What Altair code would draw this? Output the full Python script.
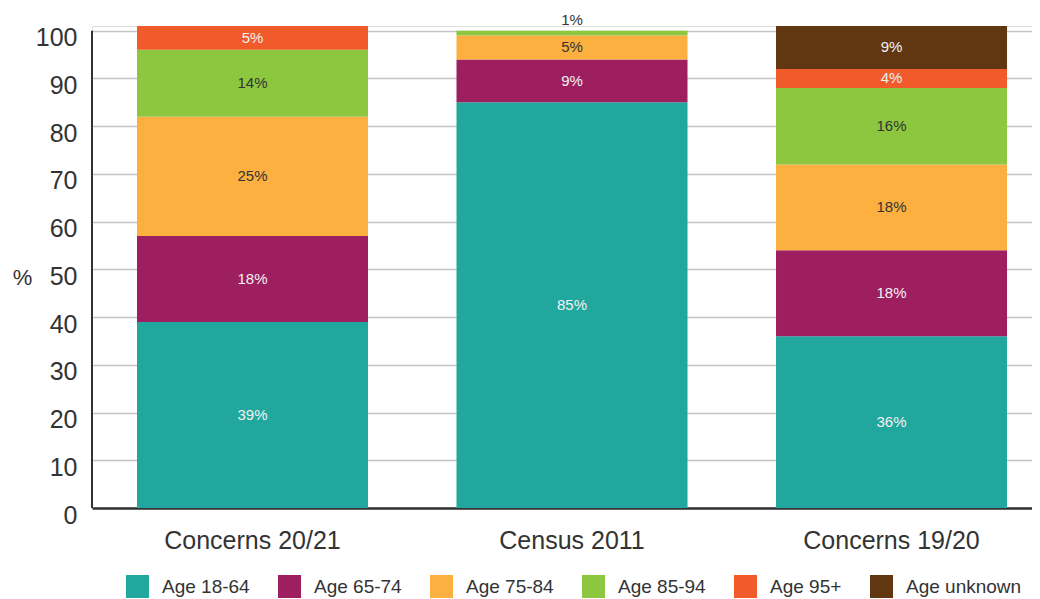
import altair as alt
import pandas as pd

groups = ["Concerns 20/21", "Census 2011", "Concerns 19/20"]
ages = ["Age 18-64", "Age 65-74", "Age 75-84", "Age 85-94", "Age 95+", "Age unknown"]
colors = ["#21A79D", "#9E1F60", "#FBB040", "#8DC63F", "#F15A2B", "#613712"]
concerns_2021 = [39, 18, 25, 14, 5, 0]
census_2011 = [85, 9, 5, 1, 0, 0]
concerns_1920 = [36, 18, 18, 16, 4, 9]
y_ticks = list(range(0, 101, 10))
light_label_ages = ["Age 18-64", "Age 65-74", "Age 95+", "Age unknown"]
dark_label_ages = ["Age 75-84", "Age 85-94"]

rows = []
for g, vals in zip(groups, [concerns_2021, census_2011, concerns_1920]):
    base = 0
    for i, (a, v) in enumerate(zip(ages, vals)):
        if v <= 0:
            continue
        rows.append(dict(group=g, age=a, order=i, value=v, y0=base, y1=base + v,
                         mid=base + v / 2, label=f"{v}%"))
        base += v
df = pd.DataFrame(rows)

FONT = "Liberation Sans"
TXT = "#333333"

x_scale = alt.Scale(domain=groups, paddingInner=0.277, paddingOuter=0.1095, align=0.643)
y_scale = alt.Scale(domain=[0, 101], nice=False, zero=True)

x_axis = alt.Axis(title=None, labelAngle=0, labelFontSize=25, labelColor=TXT, labelPadding=20,
                  ticks=False, domainColor=TXT, domainWidth=2.5, grid=False, labelFont=FONT)
y_axis = alt.Axis(values=y_ticks, title="%", titleAngle=0, titleX=-70, titleY=251,
                  titleFontSize=22, titleFontWeight="normal", titleColor=TXT, titleFont=FONT,
                  titleAlign="center", titleBaseline="middle",
                  labelFontSize=25, labelColor=TXT, labelFont=FONT, labelPadding=15, labelOffset=7,
                  ticks=False, domain=False, gridColor="#c4c4c4", gridWidth=1.5)

X = alt.X("group:N", sort=groups, scale=x_scale, axis=x_axis)

base = alt.Chart(df)

bars = base.mark_bar().encode(
    x=X,
    y=alt.Y("y1:Q", scale=y_scale, axis=y_axis),
    y2="y0:Q",
    color=alt.Color("age:N", scale=alt.Scale(domain=ages, range=colors),
                    legend=alt.Legend(title=None, orient="none", legendX=34, legendY=549,
                                      direction="horizontal", columns=6,
                                      symbolType="square", symbolSize=529, symbolStrokeWidth=0,
                                      symbolOpacity=1, labelFontSize=19, labelFont=FONT,
                                      labelOffset=13, columnPadding=28, labelColor=TXT,
                                      padding=0)),
)

light_text = base.transform_filter(
    alt.FieldOneOfPredicate(field="age", oneOf=light_label_ages)
).transform_filter("datum.value >= 3").mark_text(
    fontSize=15, color="#f2f2f2", font=FONT, baseline="middle"
).encode(x=X, y=alt.Y("mid:Q", scale=y_scale, axis=y_axis), text="label:N")

dark_text = base.transform_filter(
    alt.FieldOneOfPredicate(field="age", oneOf=dark_label_ages)
).transform_filter("datum.value >= 3").mark_text(
    fontSize=15, color=TXT, font=FONT, baseline="middle"
).encode(x=X, y=alt.Y("mid:Q", scale=y_scale, axis=y_axis), text="label:N")

small_text = base.transform_filter("datum.value < 3").mark_text(
    fontSize=15, color=TXT, font=FONT, baseline="alphabetic", dy=-6
).encode(x=X, y=alt.Y("y1:Q", scale=y_scale, axis=y_axis), text="label:N")

y_line = alt.Chart(pd.DataFrame({"a": [0]})).mark_rule(color=TXT, strokeWidth=2).encode(
    x=alt.value(0), y=alt.datum(0, scale=y_scale), y2=alt.datum(100)
)

chart = alt.layer(bars, light_text, dark_text, small_text, y_line).properties(
    width=940, height=482,
    autosize=alt.AutoSizeParams(type="none"),
    padding={"left": 84, "top": 18, "right": 0, "bottom": 91},
).configure_view(stroke=None).configure(font=FONT)

chart.save("out.html", embed_options={"renderer": "svg", "actions": False})
